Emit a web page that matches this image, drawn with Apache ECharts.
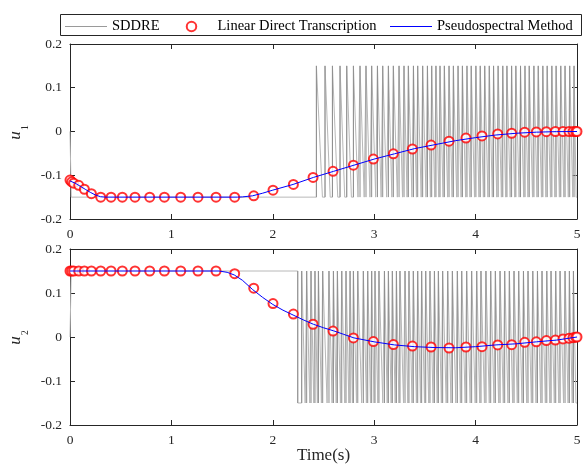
<!DOCTYPE html>
<html>
<head>
<meta charset="utf-8">
<script src="https://cdn.jsdelivr.net/npm/echarts@6/dist/echarts.min.js"></script>
<style>html,body{margin:0;padding:0;background:#fff;}#c{width:587px;height:468px;}</style>
</head>
<body>
<div id="c"></div>
<script>
// ---- data ----
const xTicks = [0, 1, 2, 3, 4, 5];
const yTicks = [-0.2, -0.1, 0, 0.1, 0.2];

// Linear Direct Transcription nodes
const ldtTime = [0, 0.017, 0.036, 0.086, 0.142, 0.211, 0.303, 0.405, 0.516, 0.641, 0.786, 0.931, 1.092, 1.262, 1.440, 1.624, 1.812, 2.002, 2.203, 2.397, 2.594, 2.795, 2.992, 3.189, 3.377, 3.561, 3.738, 3.905, 4.063, 4.218, 4.356, 4.484, 4.599, 4.698, 4.787, 4.862, 4.921, 4.961, 4.987, 5.0];
const ldtU1 = [-0.111, -0.115, -0.118, -0.123, -0.132, -0.142, -0.150, -0.150, -0.150, -0.150, -0.150, -0.150, -0.150, -0.150, -0.150, -0.150, -0.147, -0.134, -0.121, -0.105, -0.091, -0.077, -0.063, -0.051, -0.040, -0.031, -0.022, -0.015, -0.010, -0.0055, -0.004, -0.0016, -0.001, -0.0005, 0, 0, 0, 0, 0, 0];
const ldtU2 = [0.15, 0.15, 0.15, 0.15, 0.15, 0.15, 0.15, 0.15, 0.15, 0.15, 0.15, 0.15, 0.15, 0.15, 0.15, 0.144, 0.111, 0.076, 0.052, 0.029, 0.0135, -0.002, -0.0105, -0.0172, -0.0205, -0.0227, -0.025, -0.0227, -0.022, -0.018, -0.0174, -0.012, -0.011, -0.008, -0.007, -0.0045, -0.003, -0.0015, -0.0005, 0];

// Pseudospectral method
const psTimeU1 = [0, 0.05, 0.1, 0.15, 0.2, 0.25, 0.3, 0.35, 1.65, 1.7, 1.8, 1.9, 2.0, 2.2, 2.4, 2.6, 2.8, 3.0, 3.2, 3.4, 3.6, 3.8, 4.0, 4.2, 4.4, 4.6, 4.8, 5.0];
const psU1 = [-0.113, -0.118, -0.125, -0.132, -0.139, -0.145, -0.149, -0.150, -0.150, -0.1495, -0.147, -0.141, -0.134, -0.121, -0.105, -0.091, -0.077, -0.063, -0.051, -0.039, -0.030, -0.021, -0.014, -0.008, -0.004, -0.0015, -0.0003, 0];
const psTimeU2 = [0, 1.47, 1.55, 1.62, 1.7, 1.8, 1.9, 2.0, 2.1, 2.2, 2.3, 2.4, 2.5, 2.6, 2.7, 2.8, 3.0, 3.2, 3.4, 3.6, 3.8, 4.0, 4.2, 4.4, 4.6, 4.8, 5.0];
const psU2 = [0.15, 0.15, 0.147, 0.141, 0.129, 0.108, 0.090, 0.074, 0.061, 0.050, 0.039, 0.029, 0.021, 0.014, 0.006, -0.002, -0.011, -0.018, -0.022, -0.024, -0.0245, -0.022, -0.018, -0.0155, -0.011, -0.007, 0];

// SDDRE (bang-bang chattering between +/- saturation)
const sddreLimit = 0.15;
const sddreStartT = 0.012;
const sddreU1Rise = [2.43, 2.515, 2.588, 2.663, 2.729, 2.795, 2.860, 2.919, 2.975, 3.032, 3.084, 3.140, 3.189, 3.245, 3.294, 3.337, 3.387, 3.429, 3.478, 3.525, 3.567, 3.609, 3.649, 3.692, 3.738, 3.781, 3.827, 3.870, 3.915, 3.957, 4.003, 4.046, 4.090, 4.135, 4.177, 4.222, 4.268, 4.309, 4.355, 4.397, 4.443, 4.487, 4.529, 4.575, 4.618, 4.663, 4.706, 4.752, 4.794, 4.840, 4.882, 4.928, 4.971];
const sddreU2Drop = 2.246;
const sddreU2Rise = [2.285, 2.334, 2.377, 2.416, 2.450, 2.492, 2.554, 2.598, 2.637, 2.680, 2.722, 2.762, 2.795, 2.838, 2.893, 2.936, 2.975, 3.008, 3.047, 3.101, 3.140, 3.179, 3.219, 3.254, 3.304, 3.343, 3.386, 3.429, 3.468, 3.508, 3.550, 3.594, 3.633, 3.675, 3.725, 3.771, 3.820, 3.863, 3.912, 3.961, 4.011, 4.053, 4.102, 4.149, 4.195, 4.241, 4.287, 4.333, 4.379, 4.425, 4.472, 4.517, 4.564, 4.610, 4.655, 4.702, 4.744, 4.790, 4.833, 4.882, 4.925, 4.965];
const tEnd = 5.0;

// ---- build series data ----
function zip(t, v) { return t.map((x, i) => [x, v[i]]); }
function chatter(pts, rises) {
  const lo = -sddreLimit, hi = sddreLimit;
  for (let i = 0; i < rises.length; i++) {
    const r = rises[i];
    const n = i + 1 < rises.length ? rises[i + 1] : tEnd;
    pts.push([r, lo], [r, hi], [r + 0.7 * (n - r), lo]);
  }
  pts.push([tEnd, lo]);
  return pts;
}
// vertical switching edges only (drawn darker on top of the full trace)
function edges(rises, extra) {
  const out = [];
  extra.concat(rises).forEach(r => { out.push([r, -sddreLimit], [r, sddreLimit], [r, '-']); });
  return out;
}
const sddreU1 = chatter([[0, 0], [sddreStartT, -sddreLimit]], sddreU1Rise);
const sddreU2 = chatter([[0, 0], [sddreStartT, sddreLimit], [sddreU2Drop, sddreLimit], [sddreU2Drop, -sddreLimit]], sddreU2Rise);
const sddreU1Edges = edges(sddreU1Rise, []);
const sddreU2Edges = edges(sddreU2Rise, [sddreU2Drop]);

const FONT = 'Liberation Serif';
const AX = '#262626';
const grids = [
  { left: 70, right: 10, top: 44, height: 175 },
  { left: 70, right: 10, top: 249, height: 176 }
];
function xAx(g, pos, showLabel) {
  return {
    type: 'value', gridIndex: g, position: pos, min: xTicks[0], max: xTicks[xTicks.length - 1], interval: 1,
    axisLine: { onZero: false, lineStyle: { color: AX, width: 1 } },
    axisTick: { inside: true, length: 5, lineStyle: { color: AX } },
    axisLabel: { show: showLabel, margin: 8, fontSize: 13.5, fontFamily: FONT, color: AX },
    splitLine: { show: false }
  };
}
function yAx(g, pos, showLabel) {
  return {
    type: 'value', gridIndex: g, position: pos, min: yTicks[0], max: yTicks[yTicks.length - 1], interval: 0.1,
    axisLine: { onZero: false, lineStyle: { color: AX, width: 1 } },
    axisTick: { inside: true, length: 5, lineStyle: { color: AX } },
    axisLabel: { show: showLabel, margin: 8, fontSize: 13.5, fontFamily: FONT, color: AX },
    splitLine: { show: false }
  };
}
const N1 = 'SDDRE', N2 = 'Linear Direct Transcription', N3 = 'Pseudospectral Method';
function sddreSeries(data, xi, yi, color, z) {
  return { name: N1, type: 'line', xAxisIndex: xi, yAxisIndex: yi, data: data, symbol: 'none', showSymbol: false,
    connectNulls: false, lineStyle: { color: color, width: 1 }, itemStyle: { color: '#9a9a9a' }, sampling: null, z: z, animation: false };
}
function ldtSeries(data, xi, yi) {
  return { name: N2, type: 'scatter', xAxisIndex: xi, yAxisIndex: yi, data: data, symbol: 'emptyCircle', symbolSize: 9,
    itemStyle: { color: '#ff0000', borderColor: '#ff0000', borderWidth: 1 }, z: 3, animation: false };
}
function psSeries(data, xi, yi) {
  return { name: N3, type: 'line', xAxisIndex: xi, yAxisIndex: yi, data: data, symbol: 'none', showSymbol: false,
    lineStyle: { color: '#0000ff', width: 1 }, itemStyle: { color: '#0000ff' }, z: 4, animation: false };
}
const LINE_ICON = 'path://M0,0L42,0L42,1L0,1Z';
function legendAt(left, item) {
  return {
    left: left, top: 19, padding: 0, orient: 'horizontal',
    data: [item], itemWidth: 42, itemHeight: 9.5, itemGap: 0,
    textStyle: { fontFamily: FONT, fontSize: 14.5, color: '#000' },
    selectedMode: false
  };
}

const chart = echarts.init(document.getElementById('c'), null, { renderer: 'canvas' });
chart.setOption({
  animation: false,
  backgroundColor: '#fff',
  grid: grids,
  xAxis: [xAx(0, 'bottom', true), xAx(0, 'top', false), xAx(1, 'bottom', true), xAx(1, 'top', false)],
  yAxis: [yAx(0, 'left', true), yAx(0, 'right', false), yAx(1, 'left', true), yAx(1, 'right', false)],
  legend: [
    legendAt(65, { name: N1, icon: LINE_ICON, itemStyle: { color: '#9a9a9a' } }),
    legendAt(185.75, { name: N2 }),
    legendAt(390, { name: N3, icon: LINE_ICON, itemStyle: { color: '#0000ff' } })
  ],
  graphic: [
    { type: 'rect', shape: { x: 60.5, y: 14.5, width: 521, height: 21 }, style: { fill: '#fff', stroke: AX, lineWidth: 1 }, z: -1 },
    { type: 'text', x: 16, y: 135.5, rotation: Math.PI / 2, style: { text: 'u', fontSize: 17, fontStyle: 'italic', fontFamily: FONT, fill: AX, align: 'center', verticalAlign: 'middle' } },
    { type: 'text', x: 25, y: 127.5, rotation: Math.PI / 2, style: { text: '1', fontSize: 9.5, fontFamily: FONT, fill: AX, align: 'center', verticalAlign: 'middle' } },
    { type: 'text', x: 16, y: 340.5, rotation: Math.PI / 2, style: { text: 'u', fontSize: 17, fontStyle: 'italic', fontFamily: FONT, fill: AX, align: 'center', verticalAlign: 'middle' } },
    { type: 'text', x: 25, y: 332.5, rotation: Math.PI / 2, style: { text: '2', fontSize: 9.5, fontFamily: FONT, fill: AX, align: 'center', verticalAlign: 'middle' } },
    { type: 'text', x: 323.5, y: 455.5, style: { text: 'Time(s)', fontSize: 17, fontFamily: FONT, fill: AX, align: 'center', verticalAlign: 'middle' } }
  ],
  series: [
    sddreSeries(sddreU1, 0, 0, '#b8b8b8', 1),
    sddreSeries(sddreU1Edges, 0, 0, '#8e8e8e', 2),
    ldtSeries(zip(ldtTime, ldtU1), 0, 0),
    psSeries(zip(psTimeU1, psU1), 0, 0),
    sddreSeries(sddreU2, 2, 2, '#b8b8b8', 1),
    sddreSeries(sddreU2Edges, 2, 2, '#8e8e8e', 2),
    ldtSeries(zip(ldtTime, ldtU2), 2, 2),
    psSeries(zip(psTimeU2, psU2), 2, 2)
  ]
});
</script>
</body>
</html>
